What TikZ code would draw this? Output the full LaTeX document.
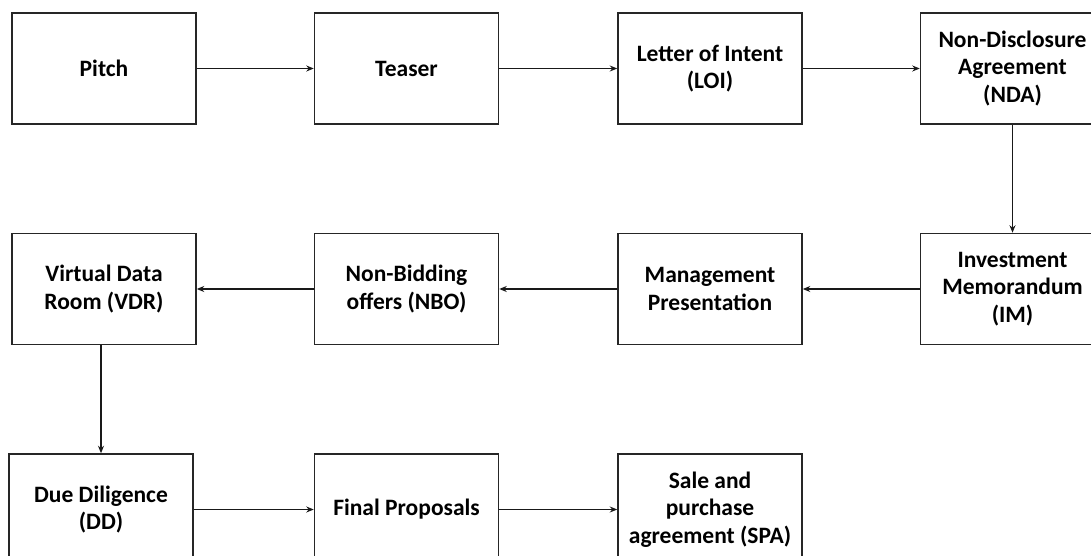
\documentclass[tikz,border=0pt]{standalone}
\usepackage{fontspec}
\setmainfont{Carlito}
\usetikzlibrary{arrows.meta, positioning}

\begin{document}
\begin{tikzpicture}[
  stage/.style={draw=black!85, line width=1.5pt, minimum width=184pt, minimum height=111pt,
    align=center, inner sep=0pt, font=\fontsize{23.5pt}{27.5pt}\selectfont\bfseries},
  arrow/.style={-{Stealth[length=7.5pt, width=6pt]}, line width=1.3pt, black!90},
  node distance=117pt and 108pt
]
  \useasboundingbox (0,0) rectangle (1091pt,-556pt);

  % Row 1: first contact
  \node[stage] (pitch) at (104pt,-68.5pt) {Pitch};
  \node[stage, right=117pt of pitch]  (teaser) {Teaser};
  \node[stage, right=118pt of teaser] (loi)    {Letter of Intent\\(LOI)};
  \node[stage, right=117pt of loi]    (nda)    {Non-Disclosure\\Agreement\\(NDA)};

  % Row 2: information
  \node[stage, below=108pt of nda]  (im)   {Investment\\Memorandum\\(IM)};
  \node[stage, below=108pt of loi]  (mp)   {Management\\Presentation};
  \node[stage, below=108pt of teaser] (nbo) {Non-Bidding\\offers (NBO)};
  \node[stage, below=108pt of pitch]  (vdr) {Virtual Data\\Room (VDR)};

  % Row 3: closing
  \node[stage, below=108pt of vdr, xshift=-3pt] (dd) {Due Diligence\\(DD)};
  \node[stage, below=108pt of nbo]  (fp)  {Final Proposals};
  \node[stage, below=108pt of mp]   (spa) {Sale and\\purchase\\agreement (SPA)};

  % Flow
  \draw[arrow] (pitch) -- (teaser);
  \draw[arrow] (teaser) -- (loi);
  \draw[arrow] (loi) -- (nda);
  \draw[arrow] (nda) -- (im);
  \draw[arrow] (im) -- (mp);
  \draw[arrow] (mp) -- (nbo);
  \draw[arrow] (nbo) -- (vdr);
  \draw[arrow] (vdr.south -| dd.north) -- (dd);
  \draw[arrow] (dd) -- (fp);
  \draw[arrow] (fp) -- (spa);
\end{tikzpicture}
\end{document}
